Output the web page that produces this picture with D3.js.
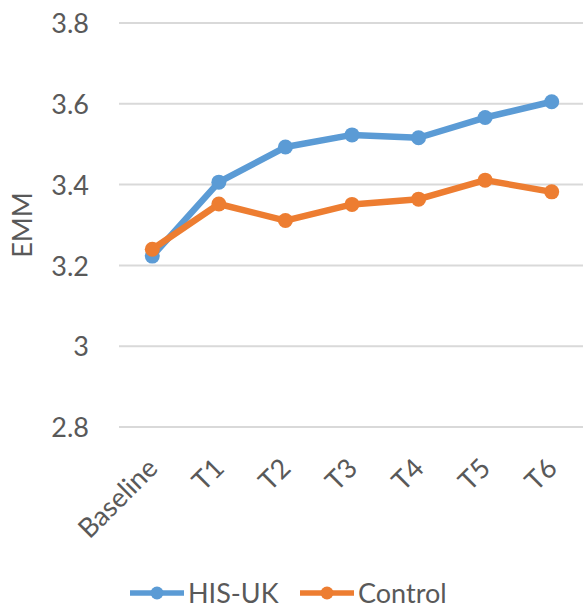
<!DOCTYPE html>
<html>
<head>
<meta charset="utf-8">
<script src="https://cdn.jsdelivr.net/npm/d3@7/dist/d3.min.js"></script>
<style>
  html, body { margin: 0; padding: 0; background: #fff; }
  svg { display: block; font-family: Lato, "Noto Sans", sans-serif; }
</style>
</head>
<body>
<svg id="chart" width="583" height="609"></svg>
<script>
// Time points and estimated marginal means per group
const categories = ["Baseline", "T1", "T2", "T3", "T4", "T5", "T6"];
const hisUK   = [3.223, 3.406, 3.493, 3.523, 3.516, 3.566, 3.605];
const control = [3.240, 3.352, 3.311, 3.351, 3.364, 3.411, 3.382];
const yTicks  = [2.8, 3.0, 3.2, 3.4, 3.6, 3.8];
const seriesNames  = ["HIS-UK", "Control"];
const seriesColors = ["#5B9BD5", "#ED7D31"];

const svg = d3.select("#chart");
const textColor = "#595959";
const plot = { left: 119, right: 585, top: 23, bottom: 427 };

const x = d3.scaleBand().domain(categories).range([plot.left, plot.right]);
const y = d3.scaleLinear().domain([2.8, 3.8]).range([plot.bottom, plot.top]);

// Horizontal gridlines
svg.append("g")
  .selectAll("line")
  .data(yTicks)
  .join("line")
  .attr("x1", plot.left).attr("x2", plot.right)
  .attr("y1", d => y(d)).attr("y2", d => y(d))
  .attr("stroke", "#D9D9D9").attr("stroke-width", 2);

// Y axis tick labels
const yAxis = d3.axisLeft(y).tickValues(yTicks).tickSize(0).tickPadding(0)
  .tickFormat(d => d3.format("~g")(d));
const gy = svg.append("g").attr("transform", "translate(89,0)").call(yAxis);
gy.select(".domain").remove();
gy.selectAll("text")
  .attr("fill", textColor).attr("font-size", 27)
  .attr("font-family", "Lato, 'Noto Sans', sans-serif")
  .attr("dy", "0.36em");

// X axis category labels, rotated
const xAxis = d3.axisBottom(x).tickSize(0).tickPadding(0);
const gx = svg.append("g").attr("transform", "translate(0,470)").call(xAxis);
gx.select(".domain").remove();
gx.selectAll(".tick text")
  .attr("fill", textColor).attr("font-size", 27)
  .attr("font-family", "Lato, 'Noto Sans', sans-serif")
  .attr("text-anchor", "end")
  .attr("y", 0).attr("dy", 0)
  .attr("transform", "translate(7,0) rotate(-45)");

// Y axis title
svg.append("text")
  .attr("transform", `translate(32,${(plot.top + plot.bottom) / 2}) rotate(-90)`)
  .attr("text-anchor", "middle")
  .attr("fill", textColor).attr("font-size", 27)
  .text("EMM");

// Series lines with markers
const series = [hisUK, control];
const line = d3.line()
  .x((d, i) => x(categories[i]) + x.bandwidth() / 2)
  .y(d => y(d));

series.forEach((vals, s) => {
  const g = svg.append("g");
  g.append("path")
    .datum(vals)
    .attr("d", line)
    .attr("fill", "none")
    .attr("stroke", seriesColors[s])
    .attr("stroke-width", 6.5)
    .attr("stroke-linejoin", "round")
    .attr("stroke-linecap", "round");
  g.selectAll("circle")
    .data(vals)
    .join("circle")
    .attr("cx", (d, i) => x(categories[i]) + x.bandwidth() / 2)
    .attr("cy", d => y(d))
    .attr("r", 7.5)
    .attr("fill", seriesColors[s]);
});

// Legend
const legendItems = [
  { name: seriesNames[0], color: seriesColors[0], x0: 130 },
  { name: seriesNames[1], color: seriesColors[1], x0: 300 }
];
const ly = 593;
const lg = svg.append("g");
legendItems.forEach(item => {
  lg.append("line")
    .attr("x1", item.x0).attr("x2", item.x0 + 54)
    .attr("y1", ly).attr("y2", ly)
    .attr("stroke", item.color).attr("stroke-width", 5.5);
  lg.append("circle")
    .attr("cx", item.x0 + 27).attr("cy", ly).attr("r", 6.5)
    .attr("fill", item.color);
  lg.append("text")
    .attr("x", item.x0 + 58).attr("y", 603)
    .attr("fill", textColor).attr("font-size", 27)
    .text(item.name);
});
</script>
</body>
</html>
